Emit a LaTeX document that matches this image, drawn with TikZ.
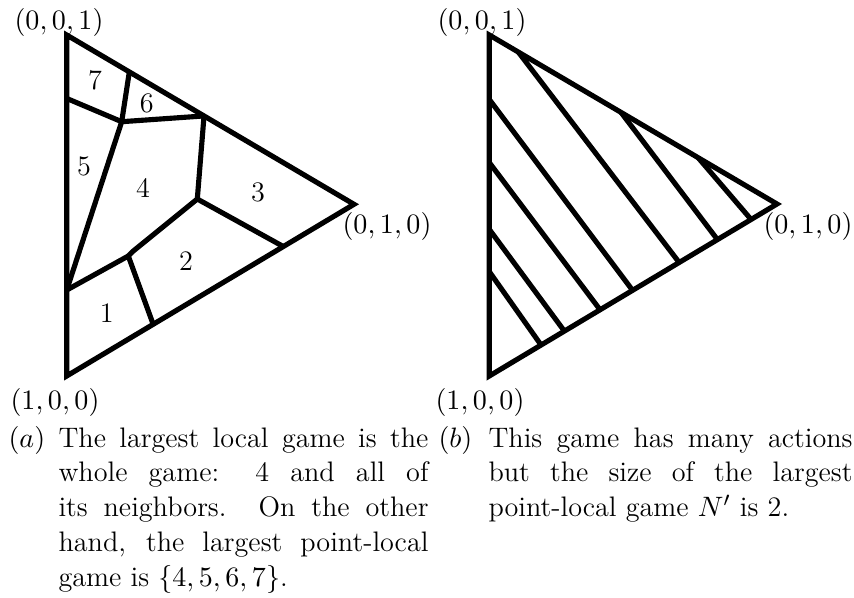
\documentclass[tikz,border=0pt]{standalone}
\usetikzlibrary{calc}
\newlength\capwa \setlength\capwa{144.3pt}
\newlength\capwb \setlength\capwb{142pt}
\begin{document}
\begin{tikzpicture}[x=0.39pt,y=-0.39pt,
  edge/.style={line width=2pt},
  vlabel/.style={font=\fontsize{11}{13.6}\selectfont, inner sep=0pt, anchor=base},
  region/.style={font=\fontsize{11}{13.6}\selectfont, inner sep=0pt},
  capt/.style={font=\fontsize{11}{13.6}\selectfont, inner sep=0pt, anchor=base west},
]
\useasboundingbox (0,0) rectangle (854,598);
% ---------- left triangle ----------
\coordinate (aT) at (66.7,35);
\coordinate (aB) at (66.7,376);
\coordinate (aR) at (354,204.3);
\coordinate (aA) at ($(aT)!0.186!(aB)$);
\coordinate (aH) at ($(aT)!0.748!(aB)$);
\coordinate (aBt) at ($(aT)!0.218!(aR)$);
\coordinate (aD) at ($(aT)!0.478!(aR)$);
\coordinate (aF) at ($(aB)!0.754!(aR)$);
\coordinate (aI) at ($(aB)!0.301!(aR)$);
\coordinate (aC) at (121.7,121.7);
\coordinate (aE) at (197.3,199);
\coordinate (aK) at (133.3,251);
\coordinate (aG) at (128.3,256);
\draw[edge] (aT) -- (aR) -- (aB) -- cycle;
\draw[edge] (aA) -- (aC);
\draw[edge] (aBt) -- (aC);
\draw[edge] (aC) -- (aD);
\draw[edge] (aC) -- (aH);
\draw[edge] (aD) -- (aE);
\draw[edge] (aE) -- (aF);
\draw[edge] (aE) -- (aK) -- (aG);
\draw[edge] (aG) -- (aH);
\draw[edge] (aG) -- (aI);
\node[region] (r7) at (95,80) {7};
\node[region] (r6) at (146.7,103) {6};
\node[region] (r5) at (84,166) {5};
\node[region] (r4) at (143,188) {4};
\node[region] (r3) at (258,192) {3};
\node[region] (r2) at (186,261) {2};
\node[region] (r1) at (106.7,313) {1};
\node[vlabel] (la1) at (59,29) {$(0,0,1)$};
\node[vlabel] (la2) at (387,233) {$(0,1,0)$};
\node[vlabel] (la3) at (55,409) {$(1,0,0)$};
% ---------- right triangle ----------
\coordinate (bT) at (489.3,35);
\coordinate (bB) at (489.3,376);
\coordinate (bR) at (777,204);
\draw[edge] (bT) -- (bR) -- (bB) -- cycle;
\draw[edge] ($(bT)!0.101!(bR)$) -- ($(bB)!0.660!(bR)$);
\draw[edge] ($(bT)!0.458!(bR)$) -- ($(bB)!0.793!(bR)$);
\draw[edge] ($(bT)!0.726!(bR)$) -- ($(bB)!0.910!(bR)$);
\draw[edge] ($(bT)!0.189!(bB)$) -- ($(bB)!0.498!(bR)$);
\draw[edge] ($(bT)!0.374!(bB)$) -- ($(bB)!0.385!(bR)$);
\draw[edge] ($(bT)!0.570!(bB)$) -- ($(bB)!0.261!(bR)$);
\draw[edge] ($(bT)!0.694!(bB)$) -- ($(bB)!0.180!(bR)$);
\node[vlabel] (lb1) at (482,29) {$(0,0,1)$};
\node[vlabel] (lb2) at (808,233) {$(0,1,0)$};
\node[vlabel] (lb3) at (480,409) {$(1,0,0)$};
% ---------- captions ----------
\node[capt] (capal) at (8,447) {$(a)$};
\node[capt] (capa) at (58,447) {\parbox[t]{\capwa}{%
\makebox[\capwa][s]{The largest local game is the}\\
\makebox[\capwa][s]{whole game: 4 and all of}\\
\makebox[\capwa][s]{its neighbors. On the other}\\
\makebox[\capwa][s]{hand, the largest point-local}\\
game is $\{4,5,6,7\}$.}};
\node[capt] (capbl) at (438,447) {$(b)$};
\node[capt] (capb) at (488,447) {\parbox[t]{\capwb}{%
\makebox[\capwb][s]{This game has many actions}\\
\makebox[\capwb][s]{but the size of the largest}\\
point-local game $N'$ is 2.}};
\end{tikzpicture}
\end{document}
